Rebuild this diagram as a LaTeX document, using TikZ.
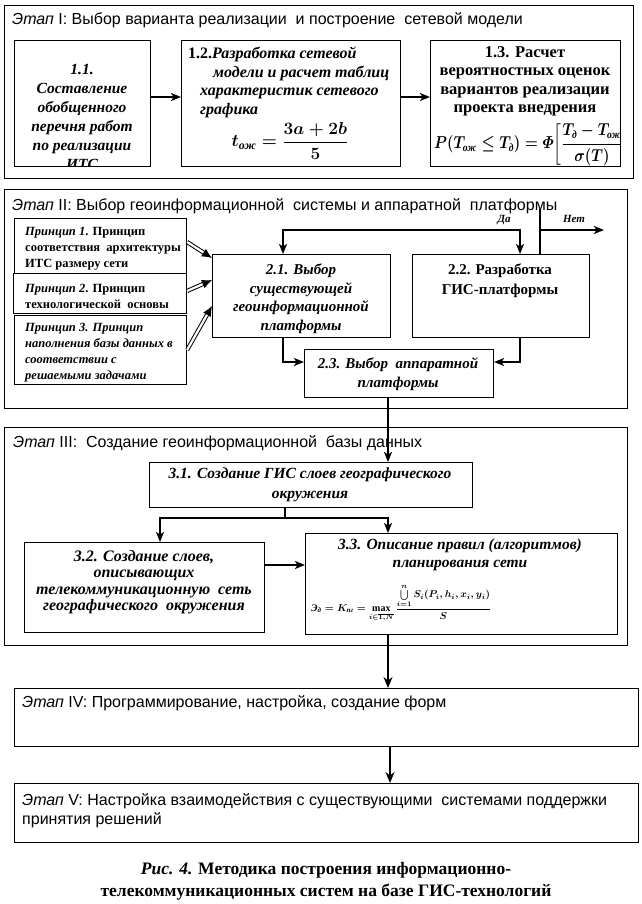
\documentclass[tikz,border=0pt]{standalone}
\usepackage{graphicx}
\usepackage{fontspec}
\usepackage{amsmath}
\setmainfont{Liberation Serif}
\newfontfamily\arialf{Liberation Sans}
\usetikzlibrary{arrows.meta}
\newcommand\mkbox[5]{%
  \pgfmathsetmacro\bxw{#4-#2}\pgfmathsetmacro\bxh{#5-#3}%
  \node[bx,minimum width=\bxw pt,minimum height=\bxh pt] (#1) at (#2,#3) {};}
\tikzset{
  bx/.style={draw, line width=1.1pt, inner sep=0pt, anchor=north west},
  ttl/.style={anchor=base west, inner sep=0pt, font=\arialf\fontsize{16}{19}\selectfont},
  txt/.style={inner sep=0pt, align=center, font=\fontsize{15}{18}\selectfont\bfseries\itshape},
  ptxt/.style={inner sep=0pt, align=left, anchor=north west, font=\fontsize{12.5}{16}\selectfont\bfseries\itshape},
  line/.style={line width=1.6pt},
  conn/.style={line width=1.6pt, -{Stealth[length=10pt,width=8pt,inset=2.5pt]}},
  conntwo/.style={line width=1.6pt, {Stealth[length=10pt,width=8pt,inset=2.5pt]}-{Stealth[length=10pt,width=8pt,inset=2.5pt]}},
  thin/.style={line width=1.2pt, -{Stealth[length=11pt,width=9pt,inset=3.5pt]}},
  dbl/.style={double, double distance=2.2pt, line width=1pt, -{Latex[length=10pt,width=9pt]}},
}
\begin{document}
\begin{tikzpicture}[x=1pt,y=-1pt]
\useasboundingbox (0,0) rectangle (641,904);
\fill[white] (0,0) rectangle (641,904);

% stage frames
\mkbox{s1}{4}{5}{633}{178}
\mkbox{s2}{4}{189}{627}{408}
\mkbox{s3}{4}{427}{627}{645}
\mkbox{s4}{14}{688}{638}{746}
\mkbox{s5}{14}{783}{638}{842}

% titles
\node[ttl] (t1) at (12,25) {\itshape Этап\upshape{} I:\ Выбор варианта реализации\ \ и построение\ \ сетевой модели};
\node[ttl] (t2) at (12,210) {\itshape Этап\upshape{} II:\ Выбор геоинформационной\ \ системы и аппаратной\ \ платформы};
\node[ttl] (t3) at (13,447) {\itshape Этап\upshape{} III:\ \ Создание геоинформационной\ \ базы данных};
\node[ttl] (t4) at (22,707) {\itshape Этап\upshape{} IV: Программирование, настройка,\ создание\ форм};
\node[ttl,align=left,anchor=north west] (t5) at (22,793) {\itshape Этап\upshape{} V: Настройка\ взаимодействия\ с существующими\ \ системами поддержки\\принятия\ решений};

% stage I boxes
\mkbox{b11}{14}{40}{150}{166}
\mkbox{b12}{181}{40}{400}{166}
\mkbox{b13}{430}{40}{620}{166}
\begin{scope}
\clip (14,40) rectangle (150,166);
\node[txt,anchor=north,font=\fontsize{15.5}{19}\selectfont\bfseries\itshape] (x11) at (82,64) {1.1.\\Составление\\обобщенного\\перечня работ\\по реализации\\ИТС};
\end{scope}
\node[txt,align=left,anchor=north west,font=\fontsize{16}{18.5}\selectfont\bfseries\itshape] (x12) at (188,47) {\upshape 1.2.\itshape Разработка сетевой\\\hspace*{25pt}модели и расчет таблиц\\\hspace*{12pt}характеристик сетевого\\\hspace*{12pt}графика};
\node[inner sep=0pt,font=\fontsize{17}{18}\selectfont\bfseries\itshape\boldmath] (f12) at (290,141) {$t_{\text{ож}} = \dfrac{3a+2b}{5}$};
\node[txt,anchor=north,font=\fontsize{16.5}{18.5}\selectfont\bfseries] (x13) at (525,46) {1.3. Расчет\\вероятностных оценок\\вариантов реализации\\проекта внедрения};
\begin{scope}
\clip (430,40) rectangle (620,166);
\node[inner sep=0pt,anchor=west,font=\fontsize{16}{18}\selectfont\bfseries\itshape\boldmath] (f13) at (434,145) {\fontsize{16}{18}\selectfont\scalebox{0.85}[1]{\fontsize{16}{18}\selectfont$\displaystyle P(T_{\text{ож}} \le T_{\text{д}}) = \varPhi\!\left[\frac{T_{\text{д}} - T_{\text{ож}}}{\sigma(T)}\right]$}};
\end{scope}
\coordinate (a1) at (0,97);
\draw[conn] (b11.east |- a1) -- (b12.west |- a1);
\draw[conn] (b12.east |- a1) -- (b13.west |- a1);

% stage II
\mkbox{p1}{14}{218}{186}{273}
\mkbox{p2}{13}{273}{186}{313}
\mkbox{p3}{14}{315}{186}{384}
\node[ptxt] (xp1) at (25,227) {Принцип 1\upshape. Принцип\\\upshape соответствия\ \ архитектуры\\\upshape ИТС размеру сети};
\node[ptxt] (xp2) at (25,284) {Принцип 2\upshape. Принцип\\\upshape технологической\ \ основы};
\node[ptxt] (xp3) at (25,323) {Принцип 3. Принцип\\наполнения базы данных в\\соответствии с\\решаемыми задачами};
\mkbox{b21}{212}{254}{390}{337}
\mkbox{b22}{412}{254}{589}{337}
\mkbox{b23}{304}{349}{493}{397}
\node[txt,anchor=north,font=\fontsize{15}{18.5}\selectfont\bfseries\itshape] (x21) at (301,264) {2.1. Выбор\\существующей\\геоинформационной\\платформы};
\node[txt,anchor=north,font=\fontsize{15}{19.5}\selectfont\bfseries] (x22) at (500,264) {2.2. Разработка\\ГИС-платформы};
\node[txt,anchor=north,font=\fontsize{15}{19.5}\selectfont\bfseries\itshape] (x23) at (398,357) {2.3. Выбор\ \ аппаратной\\платформы};
\node[inner sep=0pt,font=\fontsize{11}{12}\selectfont\bfseries\itshape] (da) at (504,220) {Да};
\node[inner sep=0pt,font=\fontsize{11}{12}\selectfont\bfseries\itshape] (net) at (574,219) {Нет};

\coordinate (q1s) at (186,242); \coordinate (q1e) at (212,258);
\coordinate (q2s) at (186,291); \coordinate (q2e) at (212,280);
\coordinate (q3s) at (186,350); \coordinate (q3e) at (212,306);
\draw[dbl] (p1.east |- q1s) -- (b21.west |- q1e);
\draw[dbl] (p2.east |- q2s) -- (b21.west |- q2e);
\draw[dbl] (p3.east |- q3s) -- (b21.west |- q3e);

\coordinate (fy) at (0,230);
\coordinate (fxl) at (283,0);
\coordinate (fxr) at (520,0);
\coordinate (vt) at (540,209);
\coordinate (nt) at (604,230);
\draw[conntwo] (b21.north -| fxl) |- (fy -| fxr) -- (b22.north -| fxr);
\draw[line] (vt) -- (b22.north -| vt);
\draw[conn] (vt |- fy) -- (nt);
\coordinate (m1) at (283,362);
\coordinate (m2) at (520,362);
\draw[conn] (b21.south -| m1) |- (b23.west |- m1);
\draw[conn] (b22.south -| m2) |- (b23.east |- m2);

% stage III
\mkbox{b31}{149}{462}{472}{507}
\mkbox{b32}{24}{542}{264}{632}
\mkbox{b33}{305}{533}{617}{634}
\node[txt,anchor=north,font=\fontsize{15.5}{20}\selectfont\bfseries\itshape] (x31) at (310,468) {3.1. Создание ГИС слоев географического\\окружения};
\node[txt,anchor=north,font=\fontsize{16}{16.5}\selectfont\bfseries\itshape] (x32) at (144,550) {3.2. Создание слоев,\\описывающих\\телекоммуникационную\ \ сеть\\географического\ \ окружения};
\node[txt,anchor=north,font=\fontsize{15.5}{18}\selectfont\bfseries\itshape] (x33) at (460,539) {3.3. Описание правил (алгоритмов)\\планирования сети};
\node[inner sep=0pt,anchor=west,font=\fontsize{10}{11}\selectfont\bfseries\itshape\boldmath] (f33) at (311,603) {$\text{Э}_{\text{д}} = K_{\text{пг}} = \max\limits_{i\in\overline{1,N}} \dfrac{\bigcup\limits_{i=1}^{n} S_i(P_i,h_i,x_i,y_i)}{S}$};

\coordinate (vx) at (388,0);
\coordinate (vx2) at (390,0);
\coordinate (sy) at (0,518);
\coordinate (sx) at (285,0);
\coordinate (lx) at (160,0);
\coordinate (ay) at (0,565);
\draw[conn] (b23.south -| vx) -- (b31.north -| vx);
\draw[line] (b31.south -| sx) -- (sx |- sy);
\draw[conntwo] (b32.north -| lx) |- (sy -| vx) -- (b33.north -| vx);
\draw[conn] (b32.east |- ay) -- (b33.west |- ay);
\draw[thin] (b33.south -| vx) -- (s4.north -| vx);
\draw[thin] (s4.south -| vx2) -- (s5.north -| vx2);

% caption
\node[inner sep=0pt,align=center,font=\fontsize{17.5}{22}\selectfont\bfseries] (cap) at (326,881) {\textit{Рис. 4.} Методика построения информационно-\\телекоммуникационных систем на базе ГИС-технологий};
\end{tikzpicture}
\end{document}
